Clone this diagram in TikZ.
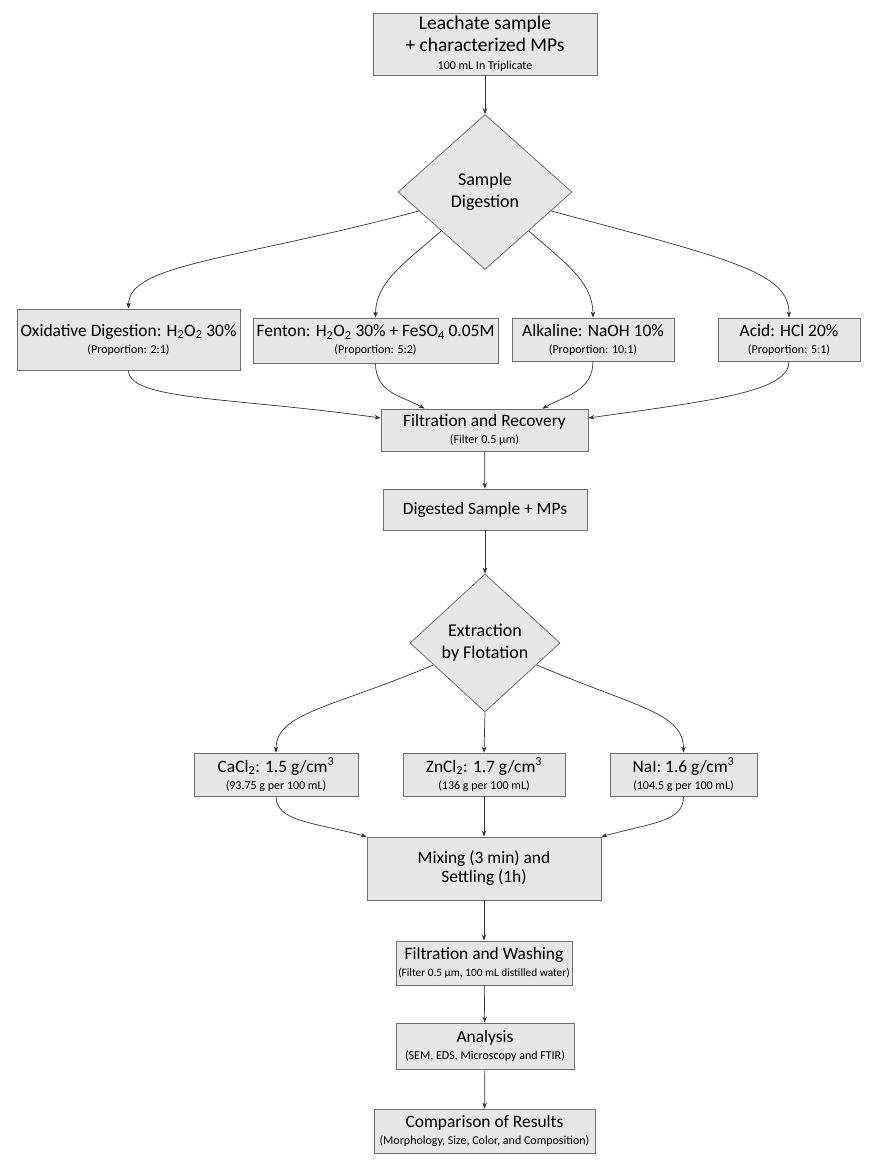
\documentclass[tikz,border=0pt]{standalone}
\usepackage{fontspec}
\setmainfont{Carlito}
\usetikzlibrary{arrows.meta, shapes.geometric}

\definecolor{boxfill}{HTML}{E6E6E6}
\definecolor{boxline}{HTML}{6E6E6E}
\definecolor{arrline}{HTML}{333333}
\newcommand{\subnote}[1]{{\fontsize{12}{13}\selectfont #1}}

\begin{document}
\begin{tikzpicture}[
        x=1pt, y=1pt,
        font=\fontsize{17.4}{19}\selectfont,
        stage/.style={draw=boxline, line width=0.8pt, fill=boxfill, align=center, inner sep=1pt},
        decision/.style={diamond, draw=boxline, line width=0.8pt, fill=boxfill, align=center, inner sep=0pt},
        flow/.style={->, arrline, line width=0.7pt},
        >={Stealth[length=6pt, width=4.5pt]}
    ]

    \useasboundingbox (0,0) rectangle (873,-1169);

    % ---- sample ----
    \node[stage, minimum width=224, minimum height=62, font=\fontsize{19.5}{22}\selectfont] (lea) at (485,-44)
        {Leachate sample\\+ characterized MPs\\[-4pt]\subnote{100 mL In Triplicate}};

    % ---- digestion ----
    \node[decision, minimum width=174, minimum height=155, font=\fontsize{18}{22}\selectfont] (dig) at (485,-192)
        {Sample\\Digestion};

    \node[stage, minimum width=223, minimum height=61] (oxi) at (128.5,-339.5)
        {Oxidative Digestion: H\textsubscript{2}O\textsubscript{2} 30\%\\[-2pt]\subnote{(Proportion: 2:1)}};
    \node[stage, minimum width=245, minimum height=45] (fen) at (375.5,-340.5)
        {Fenton: H\textsubscript{2}O\textsubscript{2} 30\% + FeSO\textsubscript{4} 0.05M\\[-2pt]\subnote{(Proportion: 5:2)}};
    \node[stage, minimum width=162, minimum height=43] (alk) at (593,-339.5)
        {Alkaline: NaOH 10\%\\[-2pt]\subnote{(Proportion: 10:1)}};
    \node[stage, minimum width=142, minimum height=43] (acd) at (789,-339.5)
        {Acid: HCl 20\%\\[-2pt]\subnote{(Proportion: 5:1)}};

    \node[stage, minimum width=207, minimum height=42] (filt) at (484.5,-430)
        {Filtration and Recovery\\[-2pt]\subnote{(Filter 0.5 µm)}};
    \node[stage, minimum width=204, minimum height=41] (dsm) at (485,-509.5)
        {Digested Sample + MPs};

    % ---- flotation ----
    \node[decision, minimum width=150, minimum height=138, font=\fontsize{18}{22}\selectfont] (ext) at (485,-643)
        {Extraction\\by Flotation};

    \node[stage, minimum width=164, minimum height=43] (cac) at (276,-774.5)
        {CaCl\textsubscript{2}: 1.5 g/cm\textsuperscript{3}\\[-2pt]\subnote{(93.75 g per 100 mL)}};
    \node[stage, minimum width=162, minimum height=43] (znc) at (484,-774.5)
        {ZnCl\textsubscript{2}: 1.7 g/cm\textsuperscript{3}\\[-2pt]\subnote{(136 g per 100 mL)}};
    \node[stage, minimum width=147, minimum height=43] (nai) at (683.5,-774.5)
        {NaI: 1.6 g/cm\textsuperscript{3}\\[-2pt]\subnote{(104.5 g per 100 mL)}};

    \node[stage, minimum width=234, minimum height=63] (mix) at (484,-868.5)
        {Mixing (3 min) and\\Settling (1h)};

    % ---- recovery and analysis ----
    \node[stage, minimum width=176, minimum height=44] (fw) at (484,-963)
        {Filtration and Washing\\[-2pt]{\fontsize{11.3}{13}\selectfont (Filter 0.5 µm, 100 mL distilled water)}};
    \node[stage, minimum width=178, minimum height=46] (ana) at (485,-1046)
        {Analysis\\[-2pt]\subnote{(SEM, EDS, Microscopy and FTIR)}};
    \node[stage, minimum width=221, minimum height=44] (cmp) at (484.5,-1131)
        {Comparison of Results\\[-2pt]\subnote{(Morphology, Size, Color, and Composition)}};

    % ---- connectors ----
    \draw[flow] (lea) -- (dig);
    \draw[flow] (dig.196) to[out=195, in=90, out distance=190, in distance=45] (oxi.north);
    \draw[flow] (dig.south west) to[out=221, in=90, out distance=50, in distance=35] (fen.north);
    \draw[flow] (dig.south east) to[out=-41, in=90, out distance=50, in distance=35] (alk.north);
    \draw[flow] (dig.-16) to[out=-15, in=90, out distance=190, in distance=45] (acd.north);

    \draw[flow] (oxi.south) to[out=-90, in=172, out distance=30, in distance=150] ([yshift=12pt]filt.west);
    \draw[flow] (fen.south) to[out=-90, in=150, out distance=30, in distance=25] ([xshift=-60pt]filt.north);
    \draw[flow] (alk.south) to[out=-90, in=30, out distance=30, in distance=25] ([xshift=58pt]filt.north);
    \draw[flow] (acd.south) to[out=-90, in=8, out distance=30, in distance=130] ([yshift=12pt]filt.east);

    \draw[flow] (filt) -- (dsm);
    \draw[flow] (dsm) -- (ext);

    \draw[flow] (ext.203) to[out=203, in=90, out distance=110, in distance=40] (cac.north);
    \draw[flow] (ext.south) -- (znc.north);
    \draw[flow] (ext.-23) to[out=-23, in=90, out distance=110, in distance=40] (nai.north);

    \draw[flow] (cac.south) to[out=-90, in=165, out distance=25, in distance=55] (mix.north west);
    \draw[flow] (znc.south) -- (mix.north -| znc.south);
    \draw[flow] (nai.south) to[out=-90, in=15, out distance=25, in distance=55] (mix.north east);

    \draw[flow] (mix) -- (fw);
    \draw[flow] (fw) -- (ana);
    \draw[flow] (ana) -- (cmp);

\end{tikzpicture}
\end{document}
